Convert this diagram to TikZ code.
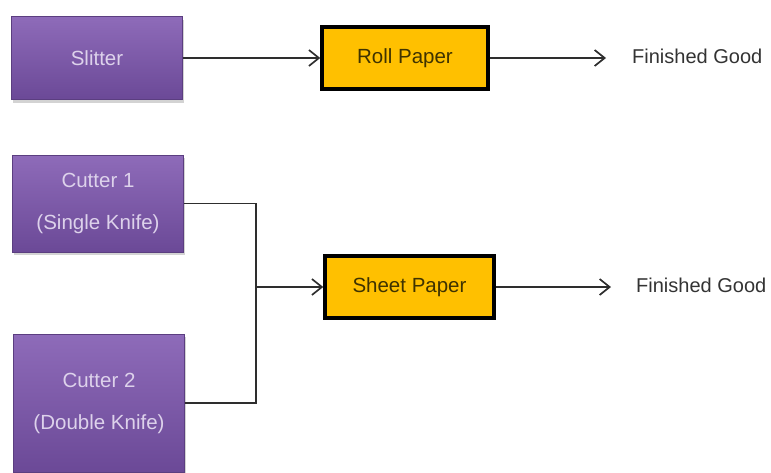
\documentclass[tikz,border=0pt]{standalone}
\usepackage{fontspec}
\setmainfont{Liberation Sans}
\usetikzlibrary{arrows.meta,shadows}
\definecolor{purpleTop}{HTML}{8E6BB9}
\definecolor{purpleBot}{HTML}{6B4997}
\definecolor{lav}{HTML}{DDD2EB}
\definecolor{gold}{HTML}{FFC000}
\definecolor{goldtext}{HTML}{3F3300}
\definecolor{wire}{HTML}{2E2E2E}

\begin{document}
\begin{tikzpicture}[x=1pt,y=-1pt,
  machine/.style={rectangle, top color=purpleTop, bottom color=purpleBot,
    draw=purpleBot!85!black, line width=0.6pt, text=lav,
    font=\fontsize{20.5}{24}\selectfont, align=center, inner sep=0pt,
    minimum width=171pt,
    drop shadow={shadow xshift=1pt, shadow yshift=-3pt, opacity=0.35}},
  product/.style={rectangle, fill=gold, draw=black, line width=3.4pt,
    text=goldtext, font=\fontsize{20.5}{24}\selectfont, inner sep=0pt,
    minimum height=62pt},
  flow/.style={draw=wire, line width=1.4pt,
    -{Straight Barb[length=10pt,width=16pt,line width=1.7pt]}},
  wireline/.style={draw=wire, line width=1.4pt},
  outlabel/.style={text=black!80, font=\fontsize{20}{24}\selectfont, anchor=west, inner sep=0pt}
]
\useasboundingbox (0,0) rectangle (771,472);

% machines
\node[machine, minimum height=83pt] (slitter) at (97,58) {Slitter};
\node[machine, minimum height=97pt] (cutter1) at (98,203.5) {Cutter 1\\[18pt](Single Knife)};
\node[machine, minimum height=138pt] (cutter2) at (99,403) {Cutter 2\\[18pt](Double Knife)};

% products
\node[product, minimum width=166pt] (roll) at (405,58) {Roll Paper};
\node[product, minimum width=169pt] (sheet) at (409.5,287) {Sheet Paper};

% outputs
\coordinate (e1) at (606,58);
\coordinate (e2) at (611,287);
\node[outlabel] (fg1) at (632,56) {Finished Good};
\node[outlabel] (fg2) at (636,285) {Finished Good};

% merge point of the two cutters
\coordinate (j) at (256,287);

% connectors
\draw[flow] (slitter.east) -- (roll.west);
\draw[flow] (roll.east) -- (e1);
\draw[wireline] (cutter1.east) -| (j) |- (cutter2.east);
\draw[flow] (j) -- (sheet.west);
\draw[flow] (sheet.east) -- (e2);
\end{tikzpicture}
\end{document}
